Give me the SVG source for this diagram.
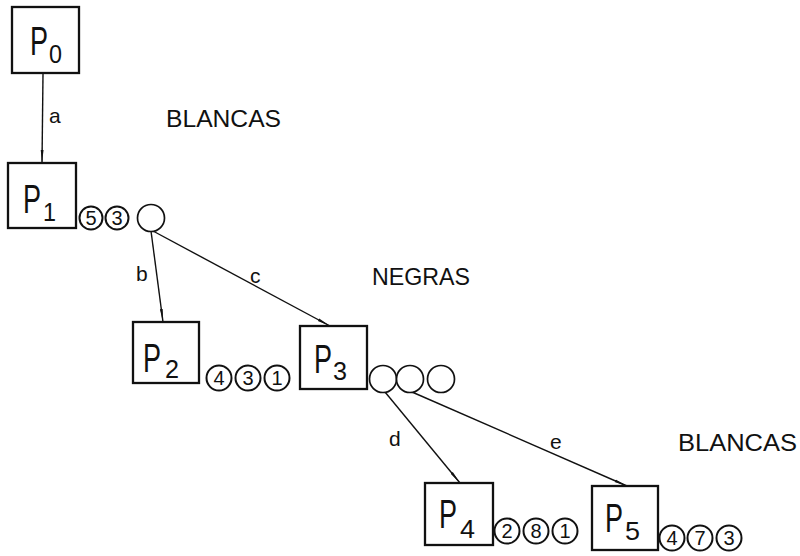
<svg xmlns="http://www.w3.org/2000/svg" width="800" height="556" viewBox="0 0 800 556">
  <style>
    .box { fill: #fff; stroke: #111; stroke-width: 2.3; }
    .big { font-family: "Liberation Sans", Arial, sans-serif; font-size: 40px; fill: #111; }
    .sub { font-family: "Liberation Sans", Arial, sans-serif; font-size: 26px; fill: #111; }
    .edge { stroke: #111; stroke-width: 1.4; fill: none; marker-end: url(#arr); }
    .lbl { font-family: "Liberation Sans", Arial, sans-serif; font-size: 21px; fill: #111; }
    .side { font-family: "Liberation Sans", Arial, sans-serif; font-size: 24px; fill: #111; }
    .ring { fill: #fff; stroke: #111; stroke-width: 1.7; }
    .tok { fill: #fff; stroke: #111; stroke-width: 2; }
    .num { font-family: "Liberation Sans", Arial, sans-serif; font-size: 20px; fill: #111; text-anchor: middle; }
  </style>
  <defs>
    <marker id="arr" markerUnits="userSpaceOnUse" markerWidth="14" markerHeight="6" refX="13" refY="3" orient="auto">
      <path d="M0,1.6 L13,3 L0,4.4 z" fill="#111"/>
    </marker>
  </defs>
  <rect width="800" height="556" fill="#fff"/>

  <!-- connectors -->
  <g id="connectors">
    <line class="edge" x1="43" y1="74" x2="42" y2="163"/>
    <line class="edge" x1="151" y1="231" x2="163" y2="322"/>
    <line class="edge" x1="153" y1="231" x2="330" y2="326"/>
    <line class="edge" x1="385" y1="392" x2="460" y2="483"/>
    <line class="edge" x1="412" y1="392" x2="627" y2="486"/>
    <text class="lbl" x="49" y="123">a</text>
    <text class="lbl" x="136" y="281">b</text>
    <text class="lbl" x="250" y="283">c</text>
    <text class="lbl" x="389" y="446">d</text>
    <text class="lbl" x="550" y="449">e</text>
  </g>

  <!-- side labels -->
  <text class="side" x="166" y="127" textLength="115" lengthAdjust="spacingAndGlyphs">BLANCAS</text>
  <text class="side" x="372" y="285" textLength="98" lengthAdjust="spacingAndGlyphs">NEGRAS</text>
  <text class="side" x="678" y="451" textLength="119" lengthAdjust="spacingAndGlyphs">BLANCAS</text>

  <!-- positions -->
  <g id="P0">
    <rect class="box" x="12" y="7" width="67" height="66"/>
    <text class="big" x="30" y="55" textLength="18" lengthAdjust="spacingAndGlyphs">P</text>
    <text class="sub" x="49" y="63" textLength="13" lengthAdjust="spacingAndGlyphs">0</text>
  </g>
  <g id="P1">
    <rect class="box" x="8" y="163" width="68" height="65"/>
    <text class="big" x="23" y="213" textLength="18" lengthAdjust="spacingAndGlyphs">P</text>
    <text class="sub" x="43" y="221" textLength="13" lengthAdjust="spacingAndGlyphs">1</text>
  </g>
  <g id="P2">
    <rect class="box" x="133" y="322" width="66" height="61"/>
    <text class="big" x="143" y="372" textLength="18" lengthAdjust="spacingAndGlyphs">P</text>
    <text class="sub" x="165" y="378" textLength="14" lengthAdjust="spacingAndGlyphs">2</text>
  </g>
  <g id="P3">
    <rect class="box" x="300" y="326" width="67" height="63"/>
    <text class="big" x="314" y="373" textLength="18" lengthAdjust="spacingAndGlyphs">P</text>
    <text class="sub" x="333" y="380" textLength="14" lengthAdjust="spacingAndGlyphs">3</text>
  </g>
  <g id="P4">
    <rect class="box" x="425" y="483" width="68" height="62"/>
    <text class="big" x="439" y="528" textLength="18" lengthAdjust="spacingAndGlyphs">P</text>
    <text class="sub" x="460" y="538" textLength="15" lengthAdjust="spacingAndGlyphs">4</text>
  </g>
  <g id="P5">
    <rect class="box" x="592" y="486" width="66" height="64"/>
    <text class="big" x="605" y="532" textLength="18" lengthAdjust="spacingAndGlyphs">P</text>
    <text class="sub" x="625" y="540" textLength="15" lengthAdjust="spacingAndGlyphs">5</text>
  </g>

  <!-- move tokens -->
  <g id="moves-P1">
    <circle class="tok" cx="91" cy="218" r="11.5"/><text class="num" x="91" y="225">5</text>
    <circle class="tok" cx="117" cy="218" r="11.5"/><text class="num" x="117" y="225">3</text>
    <circle class="ring" cx="151" cy="218" r="13.5"/>
  </g>
  <g id="moves-P2">
    <circle class="tok" cx="219" cy="378" r="12.5"/><text class="num" x="219" y="385">4</text>
    <circle class="tok" cx="248" cy="378" r="12.5"/><text class="num" x="248" y="385">3</text>
    <circle class="tok" cx="277" cy="378" r="12.5"/><text class="num" x="277" y="385">1</text>
  </g>
  <g id="moves-P3">
    <circle class="ring" cx="383" cy="379" r="13.5"/>
    <circle class="ring" cx="410" cy="379" r="13.5"/>
    <circle class="ring" cx="441" cy="379" r="13.5"/>
  </g>
  <g id="moves-P4">
    <circle class="tok" cx="507" cy="531" r="12.5"/><text class="num" x="507" y="538">2</text>
    <circle class="tok" cx="536" cy="531" r="12.5"/><text class="num" x="536" y="538">8</text>
    <circle class="tok" cx="565" cy="531" r="12.5"/><text class="num" x="565" y="538">1</text>
  </g>
  <g id="moves-P5">
    <circle class="tok" cx="672" cy="538" r="12.5"/><text class="num" x="672" y="545">4</text>
    <circle class="tok" cx="700" cy="538" r="12.5"/><text class="num" x="700" y="545">7</text>
    <circle class="tok" cx="729" cy="538" r="12.5"/><text class="num" x="729" y="545">3</text>
  </g>
</svg>
